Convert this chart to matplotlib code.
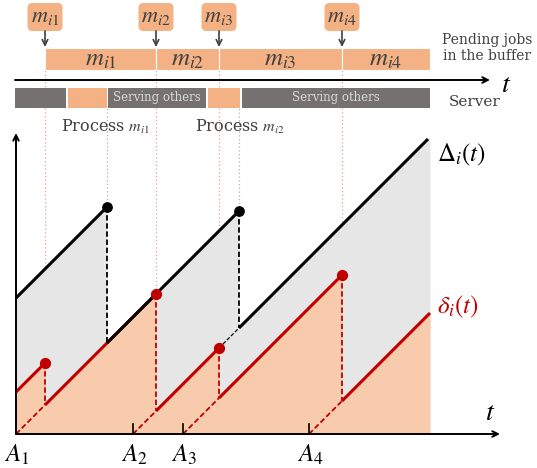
import matplotlib.pyplot as plt
from matplotlib.patches import Rectangle, FancyBboxPatch

plt.rcParams['mathtext.fontset'] = 'stix'
serif = 'DejaVu Serif'

# event times (one unit = 10 px in the picture)
gen_t = [0.0, 11.7, 16.7, 29.3]          # A_1..A_4
gen_labels = ['$A_1$', '$A_2$', '$A_3$', '$A_4$']
recv_t = [2.9, 14.0, 20.3, 32.6]         # m_i1..m_i4 reach the buffer
msg_labels = ['$m_{i1}$', '$m_{i2}$', '$m_{i3}$', '$m_{i4}$']
done_t = [9.1, 22.3]                     # service of m_i1, m_i2 finished
t_end = 41.4

# Delta_i(t): vertices, jumps at done_t
Delta_t = [0.0, 9.1, 9.1, 22.3, 22.3, 41.2]
Delta_v = [13.6, 22.7, 9.1, 22.3, 10.6, 29.5]

# delta_i(t): vertices, jumps at recv_t
delta_t = [0.0, 2.9, 2.9, 14.0, 14.0, 20.3, 20.3, 32.6, 32.6, 41.4]
delta_v = [4.2, 7.1, 2.9, 14.0, 2.3, 8.6, 3.6, 15.9, 3.3, 12.1]

# server timeline
srv_start = [-0.1, 5.2, 9.2, 19.2, 22.6]
srv_end = [5.0, 9.1, 19.0, 22.4, 41.4]
srv_busy = [True, False, True, False, True]
srv_text = ['', '', 'Serving others', '', 'Serving others']

black = '#000000'
red = '#c00000'
orange = '#f4b183'
light_orange = '#f8cbad'
grey_fill = '#e7e6e6'
server_grey = '#767171'
text_grey = '#404040'

fig = plt.figure(figsize=(5.37, 4.68), dpi=100)
ax = fig.add_axes([0, 0, 1, 1])
ax.set_xlim(-1.6, 52.1)
ax.set_ylim(-3.4, 43.4)
ax.axis('off')

# filled areas
ax.fill_between(Delta_t + [t_end], Delta_v + [Delta_v[-1] + t_end - Delta_t[-1]],
                color=grey_fill, lw=0, zorder=1)
ax.fill_between(delta_t, delta_v, color=light_orange, lw=0, zorder=2)

# guide lines from the timelines
for t in recv_t:
    ax.plot([t, t], [0.6, 36.4], ls=(0, (1, 2)), color='#f19c9c', lw=0.9, zorder=0.5)
for t, v in zip(done_t, [Delta_v[1], Delta_v[3]]):
    ax.plot([t, t], [v, 32.6], ls=(0, (1, 2)), color='#b0b0b0', lw=0.9, zorder=0.5)

# delta_i(t)
for k in range(0, len(delta_t), 2):
    ax.plot(delta_t[k:k + 2], delta_v[k:k + 2], color=red, lw=2.2,
            solid_capstyle='butt', zorder=4)
for k in range(1, len(delta_t) - 1, 2):
    ax.plot(delta_t[k:k + 2], delta_v[k:k + 2], color=red, lw=1.3,
            ls=(0, (3, 1.5)), zorder=4)
for a, k in zip(gen_t, range(2, len(delta_t), 2)):
    ax.plot([a, delta_t[k]], [0, delta_v[k]], color=red, lw=1.3,
            ls=(0, (3, 1.5)), zorder=4)

# Delta_i(t)
for k in range(0, len(Delta_t), 2):
    ax.plot(Delta_t[k:k + 2], Delta_v[k:k + 2], color=black, lw=2.2,
            solid_capstyle='butt', zorder=5)
for k in range(1, len(Delta_t) - 1, 2):
    ax.plot(Delta_t[k:k + 2], Delta_v[k:k + 2], color=black, lw=1.3,
            ls=(0, (3, 1.5)), zorder=5)
ax.plot([delta_t[5], Delta_t[4]], [delta_v[5], Delta_v[4]], color=black, lw=0.9,
        ls=(0, (3, 1.5)), zorder=5)

# dots
ax.scatter([Delta_t[1], Delta_t[3]], [Delta_v[1], Delta_v[3]], s=45, color=black, zorder=6)
ax.scatter(delta_t[1:-1:2], delta_v[1:-1:2], s=50, color=red, zorder=6)

# axes
ax.annotate('', xy=(48.4, 0), xytext=(0, 0),
            arrowprops=dict(arrowstyle='->', color=black, lw=1.4, shrinkA=0, shrinkB=0), zorder=7)
ax.annotate('', xy=(0, 30.1), xytext=(0, 0),
            arrowprops=dict(arrowstyle='->', color=black, lw=1.4, shrinkA=0, shrinkB=0), zorder=7)
for a in gen_t[1:]:
    ax.plot([a, a], [0, 1.0], color=black, lw=1.2, zorder=7)
for a, lab in zip(gen_t, gen_labels):
    ax.text(a + 0.1, -2.1, lab, ha='center', va='center', fontsize=18, color=black)
ax.text(47.4, 2.2, '$t$', ha='center', va='center', fontsize=20, color=black)
ax.text(42.1, 27.9, r'$\Delta_i(t)$', ha='left', va='center', fontsize=18, color=black)
ax.text(42.1, 12.7, r'$\delta_i(t)$', ha='left', va='center', fontsize=18, color=red)

# buffer timeline
bounds = recv_t + [t_end]
for k, lab in enumerate(msg_labels):
    ax.add_patch(Rectangle((bounds[k], 36.4), bounds[k + 1] - bounds[k], 2.2,
                           facecolor=orange, edgecolor='white', lw=0.8, zorder=3))
    ax.text((bounds[k] + bounds[k + 1]) / 2, 37.5, lab, ha='center', va='center',
            fontsize=18, color=text_grey, zorder=4)
    # callout box + arrow
    ax.add_patch(FancyBboxPatch((recv_t[k] - 1.55, 40.5), 3.1, 2.4,
                                boxstyle='round,pad=0.2,rounding_size=0.5',
                                facecolor=orange, edgecolor='none', zorder=3))
    ax.text(recv_t[k], 41.7, lab, ha='center', va='center', fontsize=16,
            color=text_grey, zorder=4)
    ax.annotate('', xy=(recv_t[k], 38.7), xytext=(recv_t[k], 40.3),
                arrowprops=dict(arrowstyle='->', color=text_grey, lw=1.2,
                                shrinkA=0, shrinkB=0), zorder=4)

ax.annotate('', xy=(47.4, 35.4), xytext=(-0.1, 35.4),
            arrowprops=dict(arrowstyle='->', color=black, lw=1.4, shrinkA=0, shrinkB=0), zorder=7)
ax.text(49.0, 35.0, '$t$', ha='center', va='center', fontsize=20, color=black)
ax.text(47.1, 38.6, 'Pending jobs\nin the buffer', ha='center', va='center',
        fontsize=10, family=serif, color=text_grey, linespacing=1.25)

# server timeline
for s, e, busy, txt in zip(srv_start, srv_end, srv_busy, srv_text):
    ax.add_patch(Rectangle((s, 32.6), e - s, 2.0,
                           facecolor=server_grey if busy else orange,
                           edgecolor='none', zorder=3))
    if txt:
        ax.text((s + e) / 2, 33.6, txt, ha='center', va='center', fontsize=8.5,
                family=serif, color='#d9d9d9', zorder=4)
ax.text(45.9, 33.2, 'Server', ha='center', va='center', fontsize=11,
        family=serif, color=text_grey)

# processing labels
ax.text(9.0, 30.7, 'Process $m_{i1}$', ha='center', va='center', fontsize=11.5,
        family=serif, color=text_grey)
ax.text(22.4, 30.7, 'Process $m_{i2}$', ha='center', va='center', fontsize=11.5,
        family=serif, color=text_grey)

fig.savefig('out.png', dpi=100)
